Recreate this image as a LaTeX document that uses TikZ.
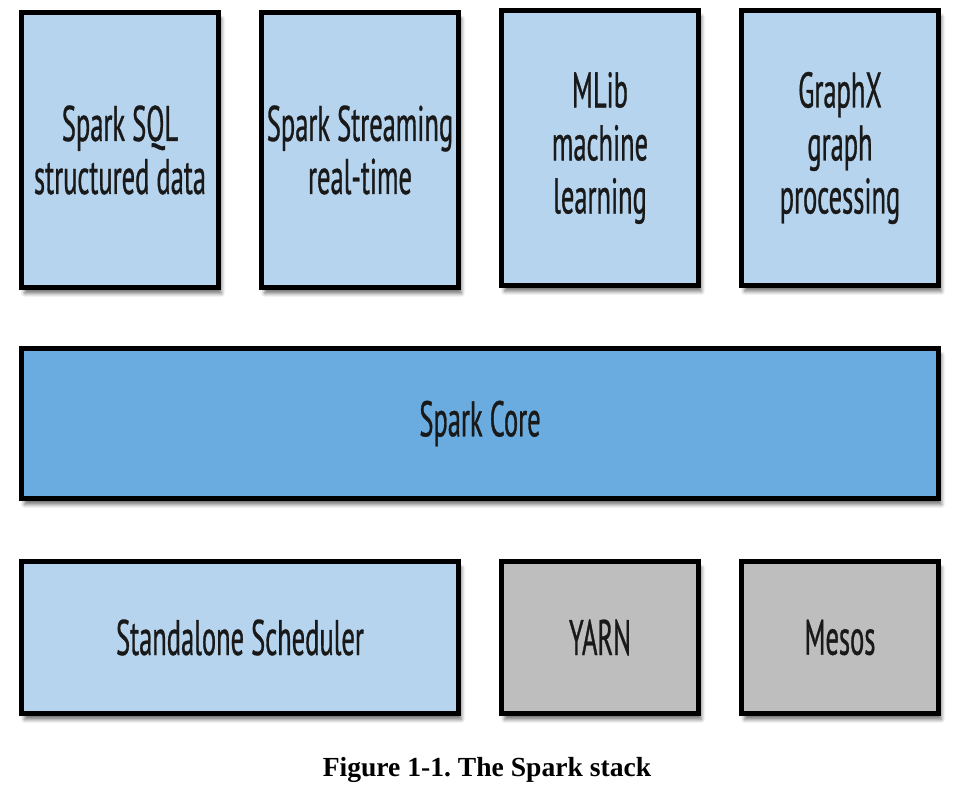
\documentclass[tikz,border=0pt]{standalone}
\usepackage{fontspec}
\setmainfont{Liberation Serif}
\newfontfamily\boxfont[FakeStretch=0.53,FakeBold=0.6]{PT Sans}
\usepackage{tikz}
\usetikzlibrary{shadows.blur}
\definecolor{libblue}{RGB}{182,212,238}
\definecolor{coreblue}{RGB}{106,172,224}
\definecolor{mgrgray}{RGB}{190,190,190}
\frenchspacing

\begin{document}
\begin{tikzpicture}[x=0.5pt,y=-0.5pt,
        layer/.style={draw=black,line width=2.5pt,text=black!90,align=center,inner sep=0pt,
          font=\boxfont\fontsize{25}{26.5}\selectfont,
          blur shadow={shadow xshift=1.5pt,shadow yshift=-3pt,shadow opacity=55,shadow blur steps=6}},
        lib/.style={layer,fill=libblue,minimum width=98.5pt,minimum height=137.5pt},
        mgr/.style={layer,minimum height=76pt}]
        \useasboundingbox (0,0) rectangle (960,802);

        \node[lib] (sql) at (120,150) {Spark SQL\\structured data};
        \node[lib] (streaming) at (360,150) {Spark Streaming\\real-time};
        \node[lib] (mlib) at (600,148) {MLib\\machine\\learning};
        \node[lib] (graphx) at (840,148) {GraphX\\graph\\processing};

        \node[layer,fill=coreblue,minimum width=458.5pt,minimum height=75pt] (core) at (480,423.5) {Spark Core};

        \node[mgr,fill=libblue,minimum width=218.5pt] (standalone) at (240,637.5) {Standalone Scheduler};
        \node[mgr,fill=mgrgray,minimum width=98.5pt] (yarn) at (600,637.5) {YARN};
        \node[mgr,fill=mgrgray,minimum width=98.5pt] (mesos) at (840,637.5) {Mesos};

        \node[font=\bfseries\fontsize{13.8}{16}\selectfont] (caption) at (487,770) {Figure 1-1. The Spark stack};
      \end{tikzpicture}
\end{document}
